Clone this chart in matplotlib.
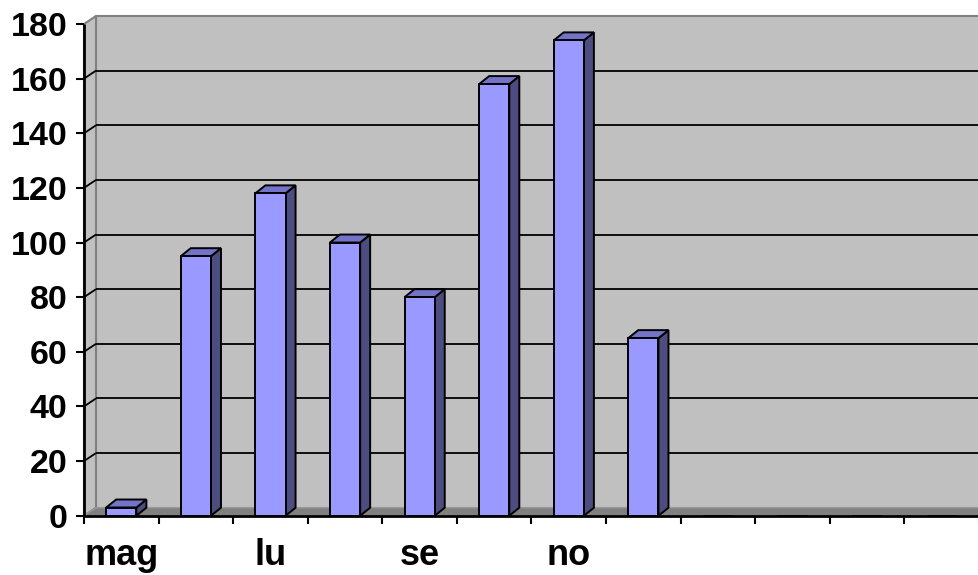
import matplotlib
matplotlib.use("Agg")
import matplotlib.pyplot as plt
from matplotlib.patches import Polygon
import numpy as np

plt.rcParams['font.family'] = ['Liberation Sans', 'DejaVu Sans']
plt.rcParams['font.weight'] = 'bold'

# Monthly counts (Italian month abbreviations, May onward)
categories = ["mag", "giu", "lu", "ag", "se", "ot", "no", "di", "", "", "", ""]
values = [3, 95, 118, 100, 80, 158, 174, 65, 0, 0, 0, 0]
y_ticks = [0, 20, 40, 60, 80, 100, 120, 140, 160, 180]
shown_labels = ["mag", "", "lu", "", "se", "", "no", "", "", "", "", ""]

WALL = "#C0C0C0"
WALL_EDGE = "#808080"
FLOOR = "#808080"
FRONT = "#9999FF"
TOP = "#7373C8"
SIDE = "#4D4D80"

fig = plt.figure(figsize=(9.79, 5.75), dpi=100)
ax = fig.add_axes([84 / 979, (575 - 515.7) / 575, 1 - 84 / 979, (515.7 - 24) / 575])
n = len(categories)
ax.set_xlim(-0.5, n - 0.5)
ax.set_ylim(0, 180)
ax.set_facecolor("none")
for s in ax.spines.values():
    s.set_visible(False)

fig.canvas.draw()
to_disp = ax.transData
to_data = ax.transData.inverted()


def shift(x, y, dxp, dyp):
    """Move a data point by a pixel offset (depth direction)."""
    px, py = to_disp.transform((x, y))
    return tuple(to_data.transform((px + dxp, py + dyp)))


WDX, WDY = 12, 8   # depth of walls / floor in pixels
BDX, BDY = 10, 8   # depth of each column in pixels

x0, x1 = -0.5, n - 0.5 + 1.0
ymax = 180

# back wall
bw = [shift(x0, 0, WDX, WDY), shift(x1, 0, WDX, WDY),
      shift(x1, ymax, WDX, WDY), shift(x0, ymax, WDX, WDY)]
ax.add_patch(Polygon(bw, closed=True, facecolor=WALL, edgecolor=WALL_EDGE,
                     lw=1.5, clip_on=False, zorder=1))
# left side wall
lw_ = [(x0, 0), shift(x0, 0, WDX, WDY), shift(x0, ymax, WDX, WDY), (x0, ymax)]
ax.add_patch(Polygon(lw_, closed=True, facecolor=WALL, edgecolor=WALL_EDGE,
                     lw=1.5, clip_on=False, zorder=1))

# gridlines on the back and side walls
for t in y_ticks[1:-1]:
    a = shift(x0, t, WDX, WDY)
    b = shift(x1, t, WDX, WDY)
    ax.plot([a[0], b[0]], [a[1], b[1]], color="black", lw=1.3,
            clip_on=False, zorder=2, solid_capstyle="butt")
    ax.plot([x0, a[0]], [t, a[1]], color="black", lw=1.3,
            clip_on=False, zorder=2, solid_capstyle="butt")

# floor
fl = [(x0, 0), (x1, 0), shift(x1, 0, WDX, WDY), shift(x0, 0, WDX, WDY)]
ax.add_patch(Polygon(fl, closed=True, facecolor=FLOOR, edgecolor="#9A9A9A",
                     lw=1.0, clip_on=False, zorder=3))

# columns
width = 0.405
xs = np.arange(n)
for xi, v in zip(xs, values):
    if v <= 0:
        continue
    l, r = xi - width / 2, xi + width / 2
    top = [(l, v), (r, v), shift(r, v, BDX, BDY), shift(l, v, BDX, BDY)]
    side = [(r, 0), shift(r, 0, BDX, BDY), shift(r, v, BDX, BDY), (r, v)]
    ax.add_patch(Polygon(side, closed=True, facecolor=SIDE, edgecolor="black",
                         lw=1.4, clip_on=False, zorder=4, joinstyle="miter"))
    ax.add_patch(Polygon(top, closed=True, facecolor=TOP, edgecolor="black",
                         lw=1.4, clip_on=False, zorder=4, joinstyle="miter"))
ax.bar(xs, values, width=width, color=FRONT, edgecolor="black", lw=1.4,
       zorder=5, clip_on=False)

# axis lines
ax.plot([x0, n - 0.5], [0, 0], color="black", lw=2, clip_on=False, zorder=6,
        solid_capstyle="butt")
ax.plot([x0, x0], [0, ymax], color="black", lw=2, clip_on=False, zorder=6,
        solid_capstyle="butt")

# ticks
ax.set_yticks(y_ticks)
ax.set_yticklabels([str(t) for t in y_ticks], fontsize=24.5, fontweight="bold")
ax.set_xticks(np.arange(n + 1) - 0.5, minor=False)
ax.set_xticklabels([""] * (n + 1))
ax.set_xticks(xs, minor=True)
ax.set_xticklabels(shown_labels, minor=True, fontsize=26, fontweight="bold")
ax.tick_params(axis="y", which="major", direction="out", length=6, width=1.5,
               pad=6, color="black")
ax.tick_params(axis="x", which="major", direction="out", length=6, width=1.5,
               color="black")
ax.tick_params(axis="x", which="minor", length=0, pad=16)

fig.savefig("out.png", dpi=100)
